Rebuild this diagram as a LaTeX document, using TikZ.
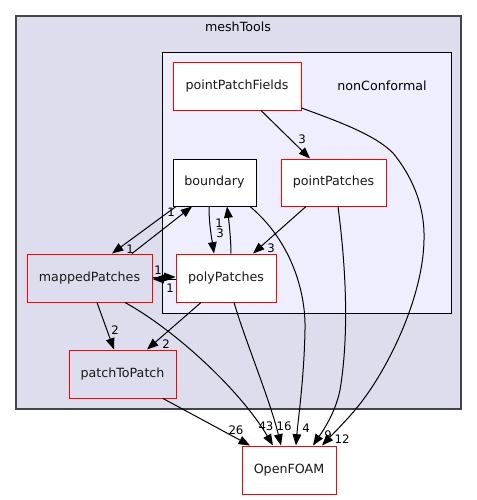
\documentclass[tikz,border=0pt]{standalone}
\usepackage{fontspec}
\setmainfont{DejaVu Sans}
\usetikzlibrary{arrows.meta,calc}
\definecolor{outerfill}{HTML}{DDDDEE}
\definecolor{innerfill}{HTML}{EEEEFF}
\definecolor{outerline}{HTML}{444444}
\begin{document}
\begin{tikzpicture}[x=0.75pt,y=-0.75pt,
  box/.style={draw=red,line width=0.75pt,fill=white,inner sep=0pt,font=\fontsize{9.5}{11}\selectfont,text=black!90},
  shbox/.style={box,fill=outerfill},
  plainbox/.style={box,draw=black},
  lbl/.style={inner sep=0pt,font=\fontsize{8.8}{10}\selectfont},
  clabel/.style={inner sep=0pt,font=\fontsize{9.5}{11}\selectfont},
  dep/.style={line width=0.75pt,-{Triangle[length=8.5pt,width=6.5pt]}}]
\useasboundingbox (0,0) rectangle (477,500);
% clusters
\draw[outerline,fill=outerfill,line width=0.9pt] (16,16) rectangle (461,409);
\node[clabel] (meshToolsLbl) at (238,27) {meshTools};
\draw[black,fill=innerfill,line width=0.75pt] (162,52) rectangle (451,313);
\node[clabel] (nonConfLbl) at (382,86) {nonConformal};
% nodes
\node[box,minimum width=96pt,minimum height=36pt] (ppf) at (237,86) {pointPatchFields};
\node[box,minimum width=78.75pt,minimum height=35.25pt] (pp) at (333.5,182.5) {pointPatches};
\node[plainbox,minimum width=62.25pt,minimum height=35.25pt] (bnd) at (214.5,182.5) {boundary};
\node[shbox,minimum width=93.75pt,minimum height=36pt] (mp) at (89.5,278) {mappedPatches};
\node[box,minimum width=75pt,minimum height=36pt] (poly) at (226,278) {polyPatches};
\node[shbox,minimum width=80.25pt,minimum height=36pt] (p2p) at (122.5,374) {patchToPatch};
\node[box,minimum width=70.5pt,minimum height=36pt] (of) at (289,470) {OpenFOAM};
% edges
\draw[dep] ($(ppf.south)+(24,0)$) -- ($(pp.north)+(-23.5,0)$);
\node[lbl] (l1) at (302,139) {3};
\draw[dep] ($(ppf.east)+(0,22)$) .. controls (340,122) and (375,135) .. (393,153)
  .. controls (415,180) and (425,210) .. (424,240)
  .. controls (423,300) and (385,375) .. (355,410)
  .. controls (345,422) and (330,437) .. ($(of.north)+(33,0)$);
\node[lbl] (l2) at (342,439) {12};
\draw[dep] ($(bnd.south)+(-5.5,0)$) .. controls (209,225) and (212,240) .. ($(poly.north)+(-12,0)$);
\node[lbl] (l3) at (220,233) {3};
\draw[dep] ($(poly.north)+(5,0)$) .. controls (231,240) and (229,222) .. ($(bnd.south)+(12.5,0)$);
\node[lbl] (l4) at (219,223) {1};
\draw[dep] ($(bnd.south)+(-38.5,0)$) -- ($(mp.north)+(22.5,0)$);
\node[lbl] (l5) at (171,212) {1};
\draw[dep] ($(mp.north)+(42.5,0)$) -- ($(bnd.south)+(-22.5,0)$);
\node[lbl] (l6) at (130,249) {1};
\draw[dep] ($(mp.east)+(0,-1)$) -- ($(poly.west)+(0,-1)$);
\draw[dep] ($(poly.west)+(0,1)$) -- ($(mp.east)+(0,1)$);
\node[lbl] (l7) at (158,270) {1};
\node[lbl] (l8) at (170,288) {1};
\draw[dep] ($(pp.south)+(-27.5,0)$) -- ($(poly.north)+(27,0)$);
\node[lbl] (l9) at (271,248) {3};
\draw[dep] ($(poly.south)+(-25,0)$) -- ($(p2p.north)+(24.5,0)$);
\node[lbl] (l10) at (166,344) {2};
\draw[dep] ($(mp.south)+(7.5,0)$) -- ($(p2p.north)+(-8.5,0)$);
\node[lbl] (l11) at (115,330) {2};
\draw[dep] ($(mp.south)+(35.5,0)$) .. controls (175,330) and (240,390) .. ($(of.north)+(-16,0)$);
\node[lbl] (l12) at (266,426) {43};
\draw[dep] ($(poly.south)+(8,0)$) .. controls (245,340) and (270,400) .. ($(of.north)+(-8,0)$);
\node[lbl] (l13) at (284,426) {16};
\draw[dep] ($(bnd.south)+(35.5,0)$) .. controls (290,240) and (306,290) .. (305,330)
  .. controls (304,380) and (298,420) .. ($(of.north)+(7,0)$);
\node[lbl] (l14) at (306,428) {4};
\draw[dep] ($(pp.south)+(4.5,0)$) .. controls (345,260) and (350,330) .. (340,390)
  .. controls (335,415) and (320,435) .. ($(of.north)+(24,0)$);
\node[lbl] (l15) at (328,435) {9};
\draw[dep] ($(p2p.south)+(40.5,0)$) -- ($(of.north)+(-39,0)$);
\node[lbl] (l16) at (236,430) {26};
\end{tikzpicture}
\end{document}
